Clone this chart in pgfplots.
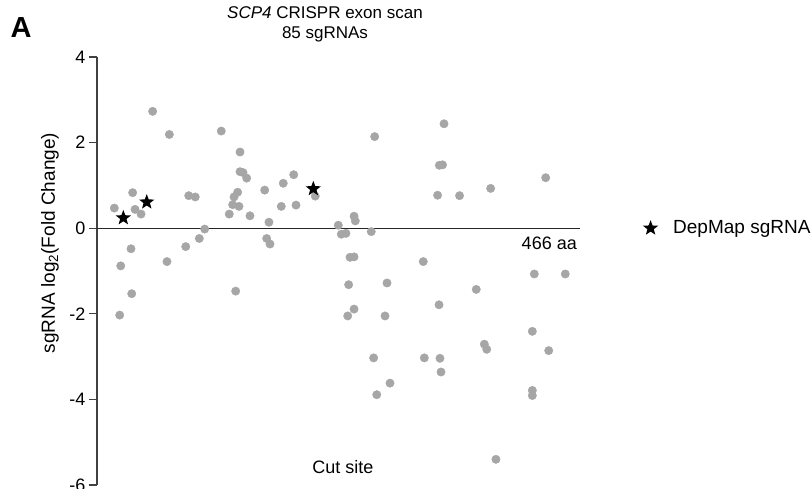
\documentclass[border=0pt]{standalone}
\usepackage{fontspec}
\setmainfont{Liberation Sans}
\usepackage{pgfplots}
\pgfplotsset{compat=1.18}
\definecolor{dotc}{HTML}{A6A6A6}
\definecolor{axc}{HTML}{404040}
% filled five-pointed star
\pgfdeclareplotmark{fstar}{%
  \pgfpathmoveto{\pgfpointpolar{90}{\pgfplotmarksize}}%
  \pgfpathlineto{\pgfpointpolar{126}{0.42*\pgfplotmarksize}}%
  \pgfpathlineto{\pgfpointpolar{162}{\pgfplotmarksize}}%
  \pgfpathlineto{\pgfpointpolar{198}{0.42*\pgfplotmarksize}}%
  \pgfpathlineto{\pgfpointpolar{234}{\pgfplotmarksize}}%
  \pgfpathlineto{\pgfpointpolar{270}{0.42*\pgfplotmarksize}}%
  \pgfpathlineto{\pgfpointpolar{306}{\pgfplotmarksize}}%
  \pgfpathlineto{\pgfpointpolar{342}{0.42*\pgfplotmarksize}}%
  \pgfpathlineto{\pgfpointpolar{18}{\pgfplotmarksize}}%
  \pgfpathlineto{\pgfpointpolar{54}{0.42*\pgfplotmarksize}}%
  \pgfpathclose\pgfusepathqfill}

\begin{document}
\begin{tikzpicture}
\useasboundingbox (0pt,0pt) rectangle (812pt,-489pt);
\begin{axis}[
  at={(97pt,-485pt)}, anchor=south west,
  scale only axis, width=483pt, height=428pt,
  xmin=0, xmax=466, ymin=-6, ymax=4, clip=false,
  axis x line=none, axis y line*=left,
  ytick={-6,-4,-2,0,2,4}, tick align=outside, major tick length=8pt,
  y axis line style={axc, line width=1.1pt},
  ytick style={axc, line width=1.1pt},
  yticklabel style={font=\fontsize{18}{18}\selectfont, /pgf/number format/assume math mode=true},
  legend style={at={(1.13,0.6)}, anchor=west, draw=none, fill=none,
    font=\fontsize{19}{19}\selectfont, inner sep=0pt},
  legend image code/.code={\draw[#1] plot coordinates {(0.25cm,0cm)};},
]
% full-length protein line (466 aa)
\addplot[no marks, black!85, line width=1.1pt, forget plot] coordinates {(0,0) (466,0)};
\addplot[only marks, mark=*, mark size=4.2pt, color=dotc, forget plot] coordinates {
(53.7,2.73) (69.8,2.19) (119.9,2.27) (138.0,1.78) (138.0,1.32) (140.9,1.30) (144.4,1.17)
(34.4,0.83) (16.7,0.47) (36.7,0.44) (42.5,0.33) (88.5,0.76) (94.8,0.73) (132.2,0.73)
(135.7,0.84) (130.9,0.55) (137.0,0.51) (127.6,0.33) (147.6,0.29) (161.8,0.89) (179.7,1.05)
(189.8,1.25) (177.8,0.51) (192.0,0.54) (165.9,0.14) (210.6,0.75) (103.9,-0.02) (98.7,-0.24)
(85.6,-0.43) (32.8,-0.48) (22.9,-0.88) (67.5,-0.78) (163.7,-0.24) (166.9,-0.37) (133.8,-1.47)
(33.5,-1.53) (21.9,-2.03) (232.8,0.07) (235.7,-0.14) (334.8,2.44) (267.9,2.14) (330.3,1.47)
(333.4,1.48) (432.9,1.18) (379.8,0.93) (328.6,0.77) (349.8,0.76) (248.0,0.28) (249.2,0.17)
(240.2,-0.12) (264.6,-0.08) (244.1,-0.68) (248.0,-0.67) (314.8,-0.78) (421.9,-1.07)
(451.8,-1.07) (242.8,-1.32) (279.8,-1.28) (365.9,-1.43) (330.0,-1.79) (248.0,-1.89)
(241.9,-2.05) (277.9,-2.05) (420.0,-2.41) (373.7,-2.71) (376.0,-2.83) (435.8,-2.86)
(266.9,-3.03) (315.8,-3.03) (330.9,-3.04) (331.9,-3.36) (282.7,-3.62) (269.9,-3.89)
(420.0,-3.79) (420.0,-3.91) (384.9,-5.40)
};
\addplot[only marks, mark=fstar, mark size=8pt, color=black] coordinates {
(25.4,0.24) (48.0,0.61) (208.7,0.92)
};
\addlegendentry{\hspace{13pt}DepMap sgRNA}
\end{axis}
\node[rotate=90, font=\fontsize{19}{19}\selectfont] at (50pt,-243pt)
  {sgRNA log\textsubscript{2}(Fold Change)};
\node[anchor=base, font=\fontsize{17}{17}\selectfont] at (325pt,-19pt)
  {\textit{SCP4} CRISPR exon scan};
\node[anchor=base, font=\fontsize{17}{17}\selectfont] at (325pt,-39pt) {85 sgRNAs};
\node[anchor=base, font=\bfseries\fontsize{29}{29}\selectfont] at (21pt,-38pt) {A};
\node[anchor=base east, font=\fontsize{18}{18}\selectfont, inner sep=0pt] at (577pt,-250pt) {466 aa};
\node[anchor=base, font=\fontsize{18}{18}\selectfont, inner sep=0pt] at (343pt,-473pt) {Cut site};
\end{tikzpicture}
\end{document}
